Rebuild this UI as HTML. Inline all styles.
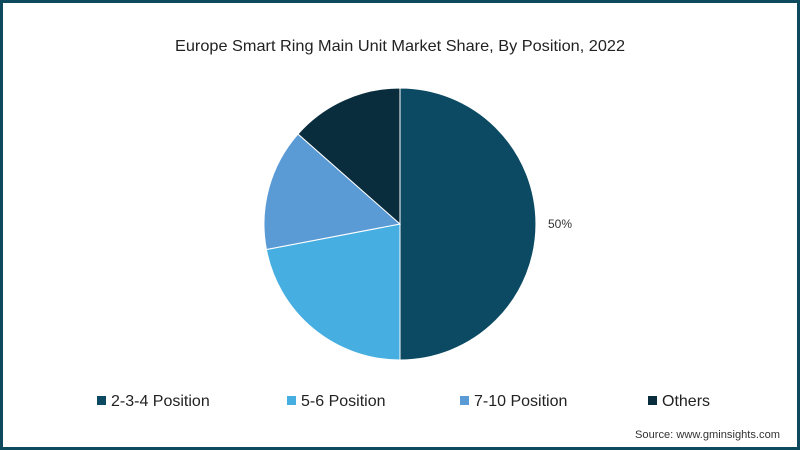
<!DOCTYPE html>
<html><head><meta charset="utf-8"><style>
html,body{margin:0;padding:0;background:#fff}
svg{display:block}
text{font-family:"Liberation Sans",sans-serif}
</style></head><body>
<svg id="chart" width="800" height="450" viewBox="0 0 800 450">
<rect x="1.5" y="1.5" width="797" height="447" fill="#fff" stroke="#0d4a5e" stroke-width="3"/>
<text x="400" y="51" text-anchor="middle" font-size="16" fill="#222" textLength="450" lengthAdjust="spacingAndGlyphs">Europe Smart Ring Main Unit Market Share, By Position, 2022</text>
<g id="slices"></g>
<g id="legend"></g>
<text x="780" y="438" text-anchor="end" font-size="11" fill="#333" textLength="145" lengthAdjust="spacingAndGlyphs">Source: www.gminsights.com</text>
</svg>
<script>
const categories = ["2-3-4 Position","5-6 Position","7-10 Position","Others"];
const values = [50, 22, 14.5, 13.5];
const colors = ["#0b4a62","#46aee0","#5b9bd5","#0a2d3e"];
const shownLabels = ["50%", "", "", ""];

const NS="http://www.w3.org/2000/svg";
const cx=400, cy=224, r=136;
const total=values.reduce((a,b)=>a+b,0);
const g=document.getElementById('slices');
let a0=0;
function pt(a,rr){return [cx+rr*Math.sin(a), cy-rr*Math.cos(a)];}
values.forEach((v,i)=>{
  const a1=a0+v/total*2*Math.PI;
  const p0=pt(a0,r), p1=pt(a1,r);
  const large=(a1-a0)>Math.PI?1:0;
  const p=document.createElementNS(NS,'path');
  p.setAttribute('d',`M${cx},${cy} L${p0[0]},${p0[1]} A${r},${r} 0 ${large} 1 ${p1[0]},${p1[1]} Z`);
  p.setAttribute('fill',colors[i]);
  p.setAttribute('stroke','#fff');
  p.setAttribute('stroke-width','1');
  
  
  g.appendChild(p);
  if(shownLabels[i]){
    const m=(a0+a1)/2, lp=pt(m,r+24);
    const t=document.createElementNS(NS,'text');
    t.setAttribute('x',lp[0]);t.setAttribute('y',lp[1]+4);
    t.setAttribute('text-anchor','middle');t.setAttribute('font-size','12');t.setAttribute('fill','#333');
    t.textContent=shownLabels[i];
    
    
    g.appendChild(t);
  }
  a0=a1;
});
const lg=document.getElementById('legend');
const lx=[97,287,460,648];
categories.forEach((c,i)=>{
  const grp=document.createElementNS(NS,'g');
  
  
  const s=document.createElementNS(NS,'rect');
  s.setAttribute('x',lx[i]);s.setAttribute('y',396);s.setAttribute('width',9);s.setAttribute('height',9);s.setAttribute('fill',colors[i]);
  
  
  const t=document.createElementNS(NS,'text');
  t.setAttribute('x',lx[i]+14);t.setAttribute('y',406);t.setAttribute('font-size','16');t.setAttribute('fill','#222');
  t.textContent=c;
  
  
  grp.appendChild(s);grp.appendChild(t);lg.appendChild(grp);
});
</script>
</body></html>
